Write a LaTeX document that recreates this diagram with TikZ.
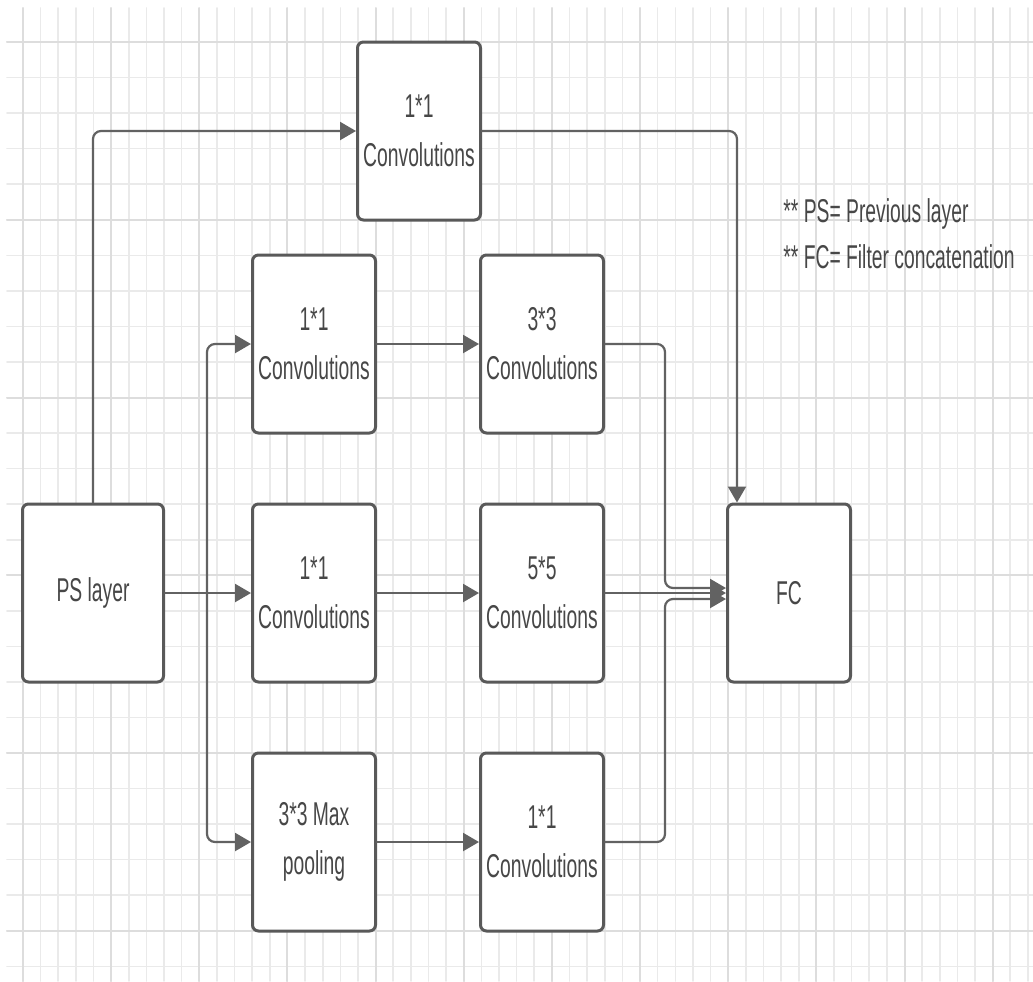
\documentclass[tikz,border=0pt]{standalone}
\usepackage{fontspec}
\setmainfont{Liberation Sans}[FakeStretch=0.585]
\usetikzlibrary{positioning, calc, arrows.meta}

\definecolor{gridmin}{HTML}{EAEAEA}
\definecolor{gridmaj}{HTML}{DDDDDD}
\definecolor{boxcol}{HTML}{595959}
\definecolor{wirecol}{HTML}{626262}
\definecolor{txtcol}{HTML}{474747}

\begin{document}
\begin{tikzpicture}[x=0.5pt,y=-0.5pt, line cap=round, line join=round,
  minorline/.style={draw=gridmin, line width=0.8pt},
  majorline/.style={draw=gridmaj, line width=1pt},
  blk/.style={draw=boxcol, line width=1.5pt, rounded corners=3pt, fill=white,
    minimum width=61.5pt, minimum height=89pt, inner sep=0pt, align=center,
    text=txtcol, font=\fontsize{16.5pt}{24.5pt}\selectfont},
  note/.style={inner sep=0pt, anchor=base west, text=txtcol,
    font=\fontsize{16.5pt}{24pt}\selectfont},
  wire/.style={draw=wirecol, line width=1.1pt, rounded corners=4pt},
  arr/.style={wire, -{Triangle[length=8pt,width=9pt]}}]

\useasboundingbox (0,0) rectangle (1033,981);
\fill[white] (0,0) rectangle (1033,981);

% grid paper
\foreach \i in {0,...,57}
  \draw[minorline] ({23+17.63*\i},8) -- ({23+17.63*\i},981);
\foreach \j in {0,...,26}
  \draw[minorline] (7,{42+35.55*\j}) -- (1033,{42+35.55*\j});
\foreach \i in {0,5,...,55}
  \draw[majorline] ({23+17.63*\i},8) -- ({23+17.63*\i},981);
\foreach \j in {0,5,...,25}
  \draw[majorline] (7,{42+35.55*\j}) -- (1033,{42+35.55*\j});

\node[blk] (top) at (419,131) {1*1\\Convolutions};

\node[blk] (c1a) at (314,344) {1*1\\Convolutions};
\node[blk] (c1b) at (542,344) {3*3\\Convolutions};

\node[blk, minimum width=70.5pt] (ps) at (93,593) {PS layer};
\node[blk] (c2a) at (314,593) {1*1\\Convolutions};
\node[blk] (c2b) at (542,593) {5*5\\Convolutions};
\node[blk] (fc)  at (789,593) {FC};

\node[blk] (c3a) at (314,842) {3*3 Max\\pooling};
\node[blk] (c3b) at (542,842) {1*1\\Convolutions};

\node[note] (n1) at (783,222) {** PS= Previous layer};
\node[note] (n2) at (783,268) {** FC= Filter concatenation};

\coordinate (split) at (207,593);
\coordinate (merge) at (665,593);

\draw[arr] (ps.north) |- (top.west);
\draw[arr] (top.east) -| ([xshift=-26pt]fc.north);

\draw[arr] (ps) -- (c2a);
\draw[arr] (split) |- (c1a.west);
\draw[arr] (split) |- (c3a.west);

\draw[arr] (c1a) -- (c1b);
\draw[arr] (c2a) -- (c2b);
\draw[arr] (c3a) -- (c3b);

\draw[arr] (c1b.east) -| ([yshift=2.5pt]merge) -- ([yshift=2.5pt]fc.west);
\draw[arr] (c2b) -- (fc);
\draw[arr] (c3b.east) -| ([yshift=-3pt]merge) -- ([yshift=-3pt]fc.west);

\end{tikzpicture}
\end{document}
